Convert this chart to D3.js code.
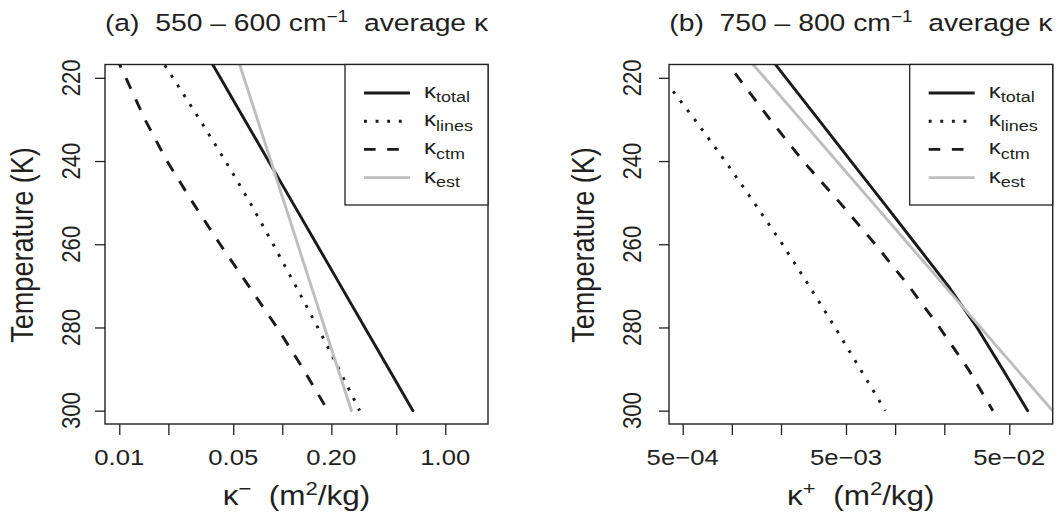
<!DOCTYPE html>
<html><head><meta charset="utf-8">
<script src="https://cdn.jsdelivr.net/npm/d3@7/dist/d3.min.js"></script>
<style>body{margin:0;background:#fff}svg text{font-family:"Liberation Sans",Arial,sans-serif;fill:#231f20;white-space:pre}</style>
</head><body>
<svg id="c" width="1063" height="514"></svg>
<script>
const temps = [210,220,230,240,250,260,270,280,290,300];
const aTotal = [0.0297,0.0417,0.0586,0.0823,0.1157,0.1626,0.2283,0.3207,0.4504,0.6328];
const aLines = [0.01452,0.02135,0.03109,0.04481,0.06348,0.08786,0.1208,0.1651,0.2226,0.2982];
const aCtm   = [0.00832,0.01097,0.01437,0.01961,0.02827,0.04153,0.06215,0.09281,0.1346,0.1904];
const aEst   = [0.04813,0.05817,0.07037,0.08506,0.1028,0.1243,0.1503,0.1817,0.2197,0.2656];
const bTotal = [0.001355,0.002143,0.003388,0.005358,0.008481,0.01338,0.02110,0.03171,0.04544,0.06478];
const bLines = [0.0002403,0.0003772,0.0005916,0.0009091,0.001369,0.002042,0.002972,0.004288,0.006109,0.008700];
const bCtm   = [0.000708,0.001098,0.001712,0.002728,0.004587,0.007551,0.01211,0.01871,0.02802,0.03967];
const bEst   = [0.000955,0.001587,0.002636,0.004380,0.007275,0.01209,0.02008,0.03335,0.05540,0.09203];
const yTicks = [220,240,260,280,300];
const aXTicks = [0.01,0.02,0.05,0.1,0.2,0.5,1];
const aXLabels = ["0.01","","0.05","","0.20","","1.00"];
const bXTicks = [5e-4,1e-3,2e-3,5e-3,1e-2,2e-2,5e-2];
const bXLabels = ["5e\u221204","","","5e\u221203","","","5e\u221202"];
const legendSubs = ["total","lines","ctm","est"];

const svg = d3.select("#c");
const ink = "#1a1a1a", grey = "#bebebe", lw = 2.9;
const K = 0.86; // vertical text squeeze seen in the reference
const styles = [
  {stroke: ink, dash: null},
  {stroke: ink, dash: "2.9,8.7"},
  {stroke: ink, dash: "11.6,11.6"},
  {stroke: grey, dash: null}
];
function txt(g, x, y, rot, size, anchor){
  return g.append("text")
    .attr("transform", `translate(${x},${y}) scale(1,${K})` + (rot ? " rotate(-90)" : ""))
    .attr("font-size", size).attr("text-anchor", anchor || "middle");
}

function panel(o){
  const top = 64.5, bot = 424;
  const x = d3.scaleLog().domain(o.xdom).range([o.left, o.right]);
  const y = d3.scaleLinear().domain([216.8, 303.2]).range([top, bot]);
  const g = svg.append("g");
  const cid = "clip" + o.id;
  g.append("clipPath").attr("id", cid).append("rect")
    .attr("x", o.left).attr("y", top).attr("width", o.right - o.left).attr("height", bot - top);
  const series = [o.total, o.lines, o.ctm, o.est];
  const line = d3.line().x(d => x(d[1])).y(d => y(d[0]));
  series.forEach((s, i) => {
    g.append("path").attr("clip-path", `url(#${cid})`)
      .datum(temps.map((t, j) => [t, s[j]]))
      .attr("d", line).attr("fill", "none")
      .attr("stroke", styles[i].stroke).attr("stroke-width", lw)
      .attr("stroke-dasharray", styles[i].dash)
      .attr("stroke-linecap", styles[i].dash ? "butt" : "round")
      .attr("stroke-linejoin", "round");
  });
  g.append("rect").attr("x", o.left).attr("y", top).attr("width", o.right - o.left)
    .attr("height", bot - top).attr("fill", "none").attr("stroke", "#222").attr("stroke-width", 1.4);
  // x axis ticks
  const gx = g.append("g").attr("transform", `translate(0,${bot})`)
    .call(d3.axisBottom(x).tickValues(o.xt).tickSize(11).tickFormat(""));
  gx.select(".domain").remove();
  gx.selectAll("line").attr("stroke", "#222").attr("stroke-width", 1.3);
  o.xt.forEach((v, i) => { if (o.xl[i]) txt(g, x(v), 465, false, 25.7).text(o.xl[i]); });
  // y axis ticks
  const gy = g.append("g").attr("transform", `translate(${o.left},0)`)
    .call(d3.axisLeft(y).tickValues(yTicks).tickSize(10).tickFormat(""));
  gy.select(".domain").remove();
  gy.selectAll("line").attr("stroke", "#222").attr("stroke-width", 1.3);
  yTicks.forEach(v => txt(g, o.ylab, y(v), true, 25.7).text(d3.format("d")(v)));
  // axis titles
  txt(g, o.ytitle, 245, true, 31.5).text("Temperature (K)");
  const xt = txt(g, (o.left + o.right) / 2, 505, false, 31.5);
  xt.append("tspan").text("\u03ba");
  xt.append("tspan").attr("dy", -12).attr("font-size", 22).text(o.sign);
  xt.append("tspan").attr("dy", 12).text("  (m");
  xt.append("tspan").attr("dy", -12).attr("font-size", 22).text("2");
  xt.append("tspan").attr("dy", 12).text("/kg)");
  // main title
  const tt = txt(g, (o.left + o.right) / 2, 31, false, 28.3);
  tt.append("tspan").text(o.title1);
  tt.append("tspan").attr("dy", -11).attr("font-size", 19).text("\u22121");
  tt.append("tspan").attr("dy", 11).text("  average \u03ba");
  // legend
  const lx = o.right - 143;
  g.append("rect").attr("x", lx).attr("y", top).attr("width", 143).attr("height", 140.5)
    .attr("fill", "#fff").attr("stroke", "#222").attr("stroke-width", 1.3);
  legendSubs.forEach((s, i) => {
    const yy = 93 + i * 28.2;
    g.append("line").attr("x1", lx + 19).attr("x2", lx + 65).attr("y1", yy).attr("y2", yy)
      .attr("stroke", styles[i].stroke).attr("stroke-width", lw)
      .attr("stroke-dasharray", styles[i].dash);
    const t = txt(g, lx + 79, yy + 5, false, 24, "start");
    t.append("tspan").text("\u03ba");
    t.append("tspan").attr("dy", 5).attr("font-size", 18).text(s);
  });
}

panel({id:"a", xdom:[0.008173, 1.828], left:105, right:488, total:aTotal, lines:aLines, ctm:aCtm, est:aEst,
  xt:aXTicks, xl:aXLabels, ylab:80, ytitle:33, sign:"\u2212", title1:"(a)  550 \u2013 600 cm"});
panel({id:"b", xdom:[4.122e-4, 0.09222], left:669, right:1052.7, total:bTotal, lines:bLines, ctm:bCtm, est:bEst,
  xt:bXTicks, xl:bXLabels, ylab:641, ytitle:594, sign:"+", title1:"(b)  750 \u2013 800 cm"});
</script>
</body></html>
